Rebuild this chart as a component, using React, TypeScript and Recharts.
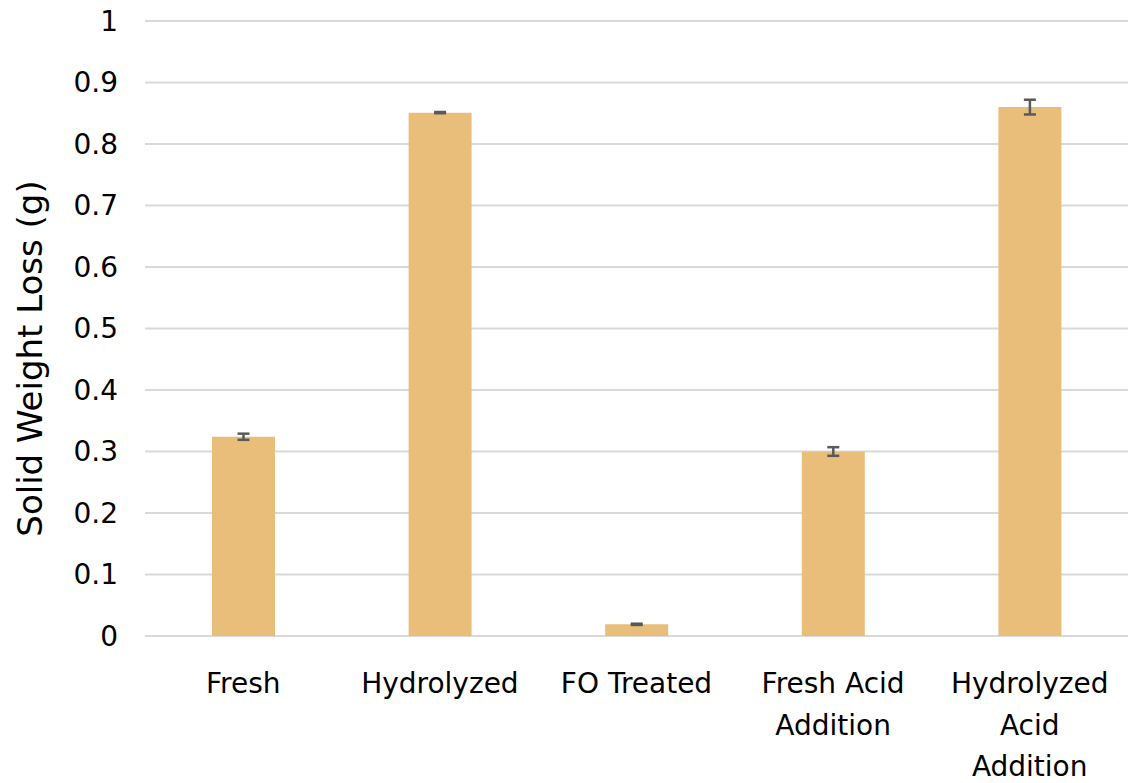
import React from 'react';
import {
  BarChart,
  Bar,
  XAxis,
  YAxis,
  CartesianGrid,
  ErrorBar,
  Label
} from 'recharts';

const categories = [
  'Fresh',
  'Hydrolyzed',
  'FO Treated',
  'Fresh Acid\nAddition',
  'Hydrolyzed\nAcid\nAddition'
];
const weightLoss = [0.324, 0.851, 0.019, 0.300, 0.860];
const weightLossErr = [0.005, 0.001, 0.001, 0.007, 0.012];
const yTicks = [0, 0.1, 0.2, 0.3, 0.4, 0.5, 0.6, 0.7, 0.8, 0.9, 1];

const FONT = '"DejaVu Sans", sans-serif';

const data = categories.map((name, i) => ({
  name,
  value: weightLoss[i],
  err: weightLossErr[i]
}));

const CategoryTick = (props: any) => {
  const { x, y, payload } = props;
  const lines = String(payload.value).split('\n');
  return (
    <text
      x={x}
      y={y + 57}
      textAnchor="middle"
      fill="#000"
      fontSize={28}
      fontFamily={FONT}
    >
      {lines.map((line, i) => (
        <tspan key={i} x={x} dy={i === 0 ? 0 : 41.5}>
          {line}
        </tspan>
      ))}
    </text>
  );
};

export default function App() {
  return (
    <div
      style={{
        position: 'fixed',
        left: 0,
        top: 0,
        width: 1128,
        height: 783,
        overflow: 'hidden',
        background: '#fff'
      }}
    >
      <BarChart
        width={1128}
        height={783}
        data={data}
        margin={{ top: 21, right: 0, bottom: 0, left: 0 }}
        style={{ display: 'block' }}
      >
        <CartesianGrid vertical={false} stroke="#D9D9D9" strokeWidth={2} />
        <XAxis
          dataKey="name"
          height={147}
          axisLine={false}
          tickLine={false}
          tickSize={0}
          tickMargin={0}
          interval={0}
          tick={<CategoryTick />}
        />
        <YAxis
          width={145}
          domain={[0, 1]}
          ticks={yTicks}
          axisLine={false}
          tickLine={false}
          tickSize={0}
          tickMargin={27}
          tick={{ fill: '#000', fontSize: 28, fontFamily: FONT }}
        >
          <Label
            value="Solid Weight Loss (g)"
            angle={-90}
            position="insideLeft"
            dx={25}
            dy={30}
            style={{ textAnchor: 'middle', fill: '#000', fontSize: 34, fontFamily: FONT }}
          />
        </YAxis>
        <Bar dataKey="value" fill="#E9BE7B" barSize={63} isAnimationActive={false}>
          <ErrorBar
            dataKey="err"
            width={6}
            stroke="#595959"
            strokeWidth={2.5}
            direction="y"
          />
        </Bar>
      </BarChart>
    </div>
  );
}
